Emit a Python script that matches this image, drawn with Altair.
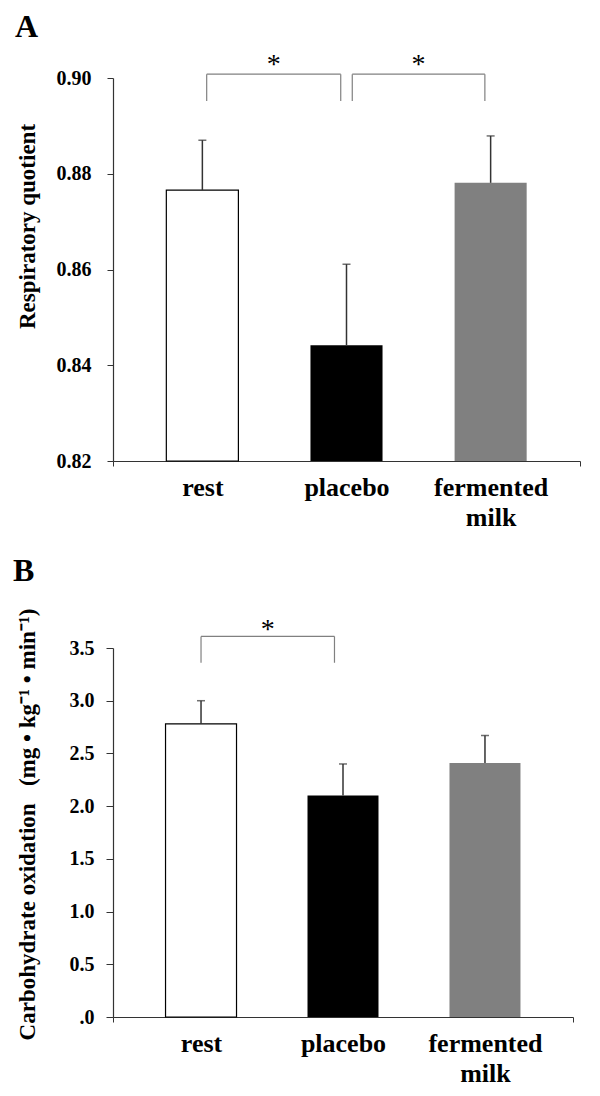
import altair as alt
import pandas as pd

# ---------------- data ----------------
groups = ["rest", "placebo", "fermented milk"]
group_idx = [0, 1, 2]
fills = ["#ffffff", "#000000", "#808080"]

# Panel A: respiratory quotient (mean, SD)
rq_mean = [0.8766, 0.8442, 0.8781]
rq_sd = [0.0104, 0.0169, 0.0098]
rq_ticks = [0.82, 0.84, 0.86, 0.88, 0.90]

# Panel B: carbohydrate oxidation (mean, SD)
cho_mean = [2.78, 2.10, 2.41]
cho_sd = [0.22, 0.30, 0.26]
cho_ticks = [0.0, 0.5, 1.0, 1.5, 2.0, 2.5, 3.0, 3.5]

# significance brackets (x from / to in category units, y top / leg end)
rq_br_from = [0.03, 1.04]
rq_br_to = [0.96, 1.96]
rq_br_top = [0.9008, 0.9008]
rq_br_leg = [0.8952, 0.8952]
rq_star_y = [0.9018, 0.9018]

cho_br_from = [0.0]
cho_br_to = [0.94]
cho_br_top = [3.61]
cho_br_leg = [3.36]
cho_star_y = [3.63]

SERIF = "Liberation Serif"
X_DOMAIN = [-0.62, 2.62]


def panel(letter, means, sds, ydom, yticks, ytitle, ylabel_expr, title_y,
          br_from, br_to, br_top, br_leg, star_y, width, height,
          tick_size, label_pad, title_pad, letter_offset, letter_dx):
    df = pd.DataFrame({
        "idx": group_idx,
        "group": groups,
        "mean": means,
        "upper": [m + s for m, s in zip(means, sds)],
        "fill": fills,
    })
    br = pd.DataFrame({"x1": br_from, "x2": br_to, "top": br_top,
                       "leg": br_leg, "sy": star_y,
                       "star": ["*"] * len(br_from)})

    xscale = alt.Scale(domain=X_DOMAIN, nice=False, zero=False)
    yscale = alt.Scale(domain=ydom, nice=False, zero=False)

    name_expr = " : ".join(
        f"datum.value == {i} ? split('{g}', ' ')" for i, g in zip(group_idx, groups)
    ) + " : ''"

    x_axis = alt.Axis(
        values=[X_DOMAIN[0]] + group_idx + [X_DOMAIN[1]],
        labelExpr=name_expr,
        labelFont=SERIF, labelFontSize=26, labelFontWeight="bold",
        labelColor="#000", labelLineHeight=30, labelPadding=8,
        labelOverlap=False, labelFlush=False, labelBound=False,
        tickSize=5, tickColor="#333", domainColor="#333", domainWidth=1.2,
        tickOpacity={"condition": {"test": "datum.value < 0 || datum.value > 2.5",
                                   "value": 1}, "value": 0},
        grid=False, title=None,
    )
    y_axis = alt.Axis(
        values=yticks, labelExpr=ylabel_expr,
        labelFont=SERIF, labelFontSize=20, labelFontWeight="bold",
        labelColor="#000", labelPadding=label_pad,
        tickSize=tick_size, tickColor="#333", domainColor="#333",
        domainWidth=1.2, grid=False,
        title=ytitle, titleFont=SERIF, titleFontSize=23,
        titleFontWeight="bold", titleColor="#000", titlePadding=title_pad,
        titleY=title_y,
    )

    def X(field):
        return alt.X(field, scale=xscale, axis=x_axis)

    def Y(field):
        return alt.Y(field, scale=yscale, axis=y_axis)

    base = alt.Chart(df).transform_calculate(
        xl="datum.idx - 0.25", xr="datum.idx + 0.25"
    )
    # only the white bar gets a black outline
    bars = base.mark_bar(strokeWidth=1.2).encode(
        x=X("xl:Q"),
        x2="xr:Q",
        y=Y("mean:Q"),
        y2=alt.datum(ydom[0]),
        fill=alt.Fill("fill:N", scale=None, legend=None),
        stroke=alt.value("#000"),
        strokeOpacity=alt.condition("datum.idx == 0", alt.value(1), alt.value(0)),
    )
    err = base.mark_rule(color="#333", strokeWidth=1.5).encode(
        x=X("idx:Q"),
        y=Y("mean:Q"),
        y2="upper:Q",
    )
    cap = base.mark_tick(color="#333", thickness=1.5, size=8,
                         orient="horizontal").encode(
        x=X("idx:Q"),
        y=Y("upper:Q"),
    )

    bb = alt.Chart(br)
    br_top_l = bb.mark_rule(color="#808080", strokeWidth=1.2).encode(
        x=X("x1:Q"), x2="x2:Q",
        y=Y("top:Q"),
    )
    br_left = bb.mark_rule(color="#808080", strokeWidth=1.2).encode(
        x=X("x1:Q"),
        y=Y("leg:Q"), y2="top:Q",
    )
    br_right = bb.mark_rule(color="#808080", strokeWidth=1.2).encode(
        x=X("x2:Q"),
        y=Y("leg:Q"), y2="top:Q",
    )
    stars = bb.transform_calculate(xm="(datum.x1 + datum.x2) / 2").mark_text(
        font=SERIF, fontSize=28, color="#000", baseline="alphabetic", dy=4
    ).encode(
        x=X("xm:Q"),
        y=Y("sy:Q"),
        text="star:N",
    )

    return alt.layer(bars, err, cap, br_top_l, br_left, br_right, stars).properties(
        width=width, height=height,
        title=alt.TitleParams(letter, anchor="start", font=SERIF, fontSize=32,
                              fontWeight="bold", color="#000", frame="bounds",
                              dx=letter_dx, offset=letter_offset),
    )


panel_a = panel("A", rq_mean, rq_sd, [0.82, 0.90], rq_ticks,
                "Respiratory quotient", "format(datum.value, '.2f')", 148,
                rq_br_from, rq_br_to, rq_br_top, rq_br_leg, rq_star_y,
                467, 383, 6, 16, 17, 7, -1)

panel_b = panel("B", cho_mean, cho_sd, [0.0, 3.5], cho_ticks,
                "Carbohydrate oxidation\u2002 (mg \u2022 kg\u207b\u00b9 \u2022 min\u207b\u00b9)",
                "datum.value == 0 ? '.0' : format(datum.value, '.1f')", 176,
                cho_br_from, cho_br_to, cho_br_top, cho_br_leg, cho_star_y,
                460, 369, 7, 12, 30, 20, -3)

chart = alt.concat(panel_a, panel_b, columns=1, spacing=25).properties(
    align="none",
    padding={"left": 5, "top": 3, "right": 5, "bottom": 5},
    background="#ffffff",
).configure_view(stroke=None)

chart.save("out.html", embed_options={"renderer": "svg", "actions": False})
